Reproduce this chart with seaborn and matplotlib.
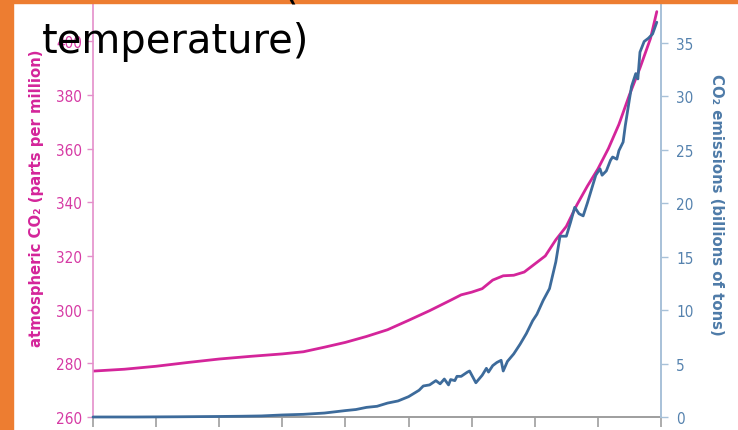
import matplotlib
matplotlib.use('Agg')
import matplotlib.pyplot as plt
from matplotlib import font_manager
from matplotlib.font_manager import FontProperties
from matplotlib.patches import Rectangle
import seaborn as sns

# atmospheric CO2 (ppm)
co2_years = [1750, 1765, 1780, 1795, 1810, 1825, 1840, 1850, 1860, 1870, 1880, 1890,
             1900, 1910, 1920, 1925, 1930, 1935, 1940, 1945, 1950, 1955, 1960, 1965,
             1970, 1975, 1980, 1985, 1990, 1995, 2000, 2005, 2010, 2015, 2018]
co2_ppm = [277.1, 277.8, 278.9, 280.3, 281.6, 282.6, 283.5, 284.3, 286.0, 287.8, 290.0, 292.5,
           296.0, 299.6, 303.5, 305.5, 306.5, 307.8, 311.0, 312.6, 312.8, 314.0, 317.0, 320.0,
           326.0, 331.0, 339.0, 346.0, 352.4, 360.0, 369.0, 380.0, 390.0, 401.0, 411.0]

# CO2 emissions (billions of tons)
em_years = [1750, 1770, 1790, 1810, 1820, 1830, 1840, 1850, 1860, 1870, 1875, 1880, 1885,
            1890, 1895, 1900, 1905, 1907, 1910, 1913, 1915, 1917, 1919, 1920, 1922, 1923,
            1925, 1928, 1929, 1932, 1935, 1937, 1938, 1940, 1942, 1944, 1945, 1947, 1950,
            1953, 1956, 1959, 1961, 1964, 1967, 1970, 1972, 1975, 1977, 1979, 1981, 1983,
            1985, 1987, 1989, 1991, 1992, 1994, 1996, 1997, 1999, 2000, 2002, 2003, 2005,
            2006, 2007, 2008, 2009, 2010, 2012, 2014, 2016, 2018]
emissions = [0.0, 0.0, 0.02, 0.05, 0.07, 0.1, 0.19, 0.25, 0.37, 0.6, 0.7, 0.9, 1.0,
             1.3, 1.5, 1.9, 2.5, 2.9, 3.0, 3.4, 3.1, 3.55, 3.0, 3.5, 3.4, 3.8,
             3.8, 4.2, 4.3, 3.2, 3.9, 4.55, 4.2, 4.8, 5.1, 5.3, 4.3, 5.2, 5.9,
             6.8, 7.8, 9.0, 9.6, 10.9, 12.0, 14.5, 16.9, 16.9, 18.2, 19.6, 19.0, 18.8,
             20.0, 21.3, 22.6, 23.2, 22.6, 23.0, 24.0, 24.3, 24.1, 24.9, 25.7, 27.2, 29.7,
             30.9, 31.5, 32.1, 31.6, 34.1, 35.1, 35.4, 35.8, 36.9]

x_ticks = [1750, 1780, 1810, 1840, 1870, 1900, 1930, 1960, 1990, 2020]
left_ticks = [260, 280, 300, 320, 340, 360, 380, 400]
right_ticks = [0, 5, 10, 15, 20, 25, 30, 35]

magenta = '#D4259A'
blue = '#3D6B9B'

sns.set_style('white')
plt.rcParams['font.family'] = ['DejaVu Sans']

# narrow font for the tick numbers if one is around
narrow = [f.fname for f in font_manager.fontManager.ttflist
          if 'SansNarrow-Regular' in f.fname or 'DejaVuSansCondensed.ttf' in f.fname]
if narrow:
    tick_fp = FontProperties(fname=narrow[0], size=11)
else:
    tick_fp = FontProperties(family='Roboto', size=10.5)

fig = plt.figure(figsize=(7.38, 4.31), dpi=100)
W, H = 738, 431
ax = fig.add_axes([93 / W, 13 / H, (661 - 93) / W, (H - 13) / H])
ax2 = ax.twinx()

sns.lineplot(x=co2_years, y=co2_ppm, ax=ax, color=magenta, linewidth=2.0)
sns.lineplot(x=em_years, y=emissions, ax=ax2, color=blue, linewidth=2.0, clip_on=False)

ax.set_xlim(1750, 2020)
ax.set_ylim(260, 415.7)
ax2.set_ylim(0, 39.07)

ax.set_xticks(x_ticks)
ax.set_xticklabels([])
ax.set_yticks(left_ticks)
ax2.set_yticks(right_ticks)

ax.tick_params(axis='x', length=7, width=1.2, color='#9E9E9E', direction='out', bottom=True)
ax.tick_params(axis='y', length=4, width=1, color='#E48FCB', labelcolor='#D63AA4',
               pad=4, left=True)
ax2.tick_params(axis='y', length=5, width=1, color='#A8C1D8', labelcolor='#5582AE',
                pad=6, right=True)
for lab in ax.get_yticklabels() + ax2.get_yticklabels():
    lab.set_fontproperties(tick_fp)

for s in ['top', 'right']:
    ax.spines[s].set_visible(False)
for s in ['top', 'left', 'bottom']:
    ax2.spines[s].set_visible(False)
ax.spines['left'].set_color('#E48FCB')
ax.spines['left'].set_linewidth(1.2)
ax.spines['bottom'].set_color('#9E9E9E')
ax.spines['bottom'].set_linewidth(1.4)
ax2.spines['right'].set_color('#A8C1D8')
ax2.spines['right'].set_linewidth(1.4)

ax.set_xlabel('')
ax.set_ylabel('atmospheric CO\u2082 (parts per million)', color=magenta,
              fontweight='bold', fontsize=10.7)
ax.yaxis.set_label_coords((44 - 93) / 568, (418 - 198) / 418)
ax2.set_ylabel('CO\u2082 emissions (billions of tons)', color='#4E7BA8',
               fontweight='bold', fontsize=10.7, rotation=270, va='bottom')
ax2.yaxis.set_label_coords((709 - 93) / 568, (418 - 205) / 418)

# slide frame
fig.patches.append(Rectangle((0, 0), 13 / W, 1, transform=fig.transFigure,
                             color='#ED7D31', zorder=2))
fig.patches.append(Rectangle((0, 1 - 4 / H), 1, 4 / H, transform=fig.transFigure,
                             color='#ED7D31', zorder=2))

# slide title text, cut off at the top
fig.text(42 / W, 1 - 53 / H, 'temperature)', fontsize=28.8, color='black',
         va='baseline', ha='left', zorder=5)
fig.text(283 / W, 1 + 1 / H, '(', fontsize=28.8, color='black',
         va='baseline', ha='left', zorder=5)

fig.savefig('out.png', dpi=100)
